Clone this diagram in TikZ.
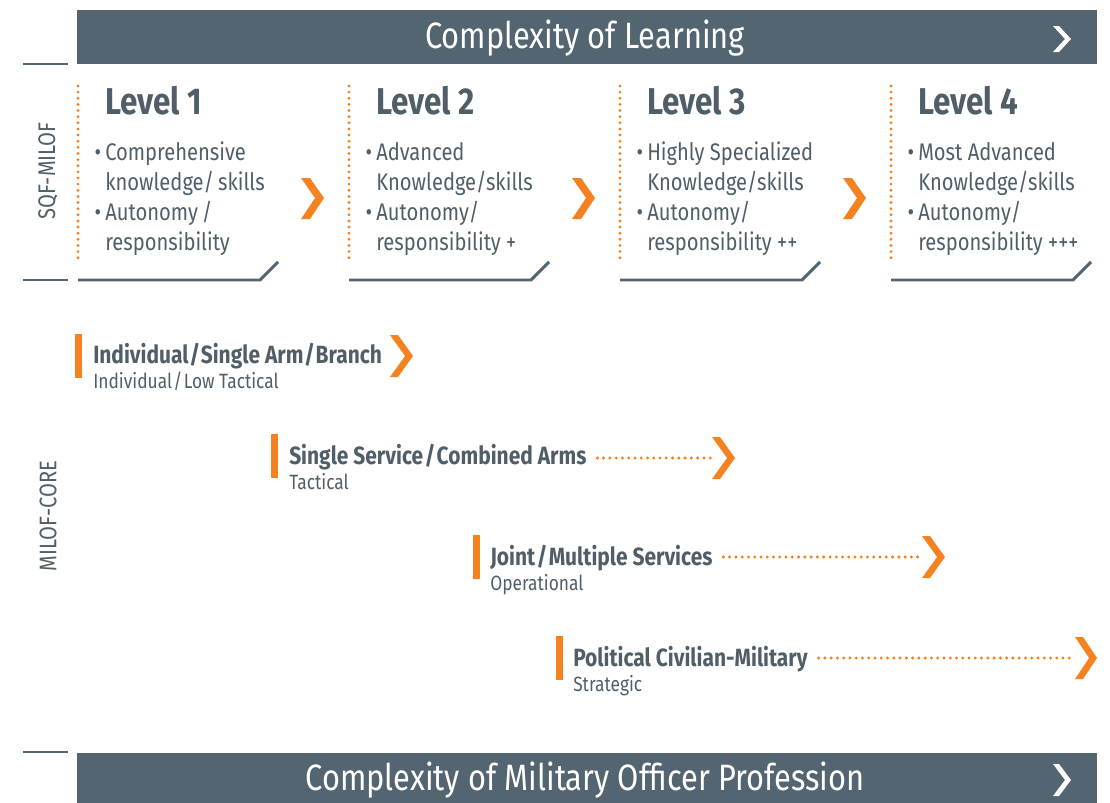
\documentclass[tikz,border=0pt]{standalone}
\usepackage{fontspec}
\setmainfont{Fira Sans}[FakeStretch=0.84]
\definecolor{slate}{HTML}{536570}
\definecolor{txt}{HTML}{505E68}
\definecolor{orng}{HTML}{F58220}
\begin{document}
\begin{tikzpicture}[x=0.75pt,y=-0.75pt,
  bar/.style={fill=slate,draw=none},
  bartext/.style={text=white,font=\fontsize{27.5}{32}\selectfont,anchor=center,inner sep=0},
  tick/.style={draw=slate,line width=2.2pt},
  side/.style={text=txt,font=\fontsize{18}{21}\selectfont,rotate=90,anchor=center,inner sep=0},
  lvl/.style={text=txt,font=\bfseries\fontsize{28}{32}\selectfont,anchor=west,inner sep=0},
  bul/.style={text=txt,font=\fontsize{18}{22.5}\selectfont,anchor=north west,align=left,inner sep=0},
  dotv/.style={draw=orng,line width=2.4pt,line cap=round,dash pattern=on 0pt off 4.6pt},
  dotline/.style={draw=orng,line width=2.5pt,line cap=round,dash pattern=on 0pt off 4.7pt},
  ochev/.style={fill=orng,draw=none},
  wchev/.style={fill=white,draw=none},
  rowt/.style={text=txt,font=\bfseries\fontsize{18.7}{22}\selectfont,anchor=base west,inner sep=0},
  rows/.style={text=txt,font=\fontsize{15.5}{18}\selectfont,anchor=base west,inner sep=0},
  obar/.style={fill=orng,draw=none}]
\useasboundingbox (0,0) rectangle (1110,803);
% top bar
\fill[bar] (77,10) rectangle (1097,64);
\node[bartext] (top) at (585,38) {Complexity of Learning};
\fill[wchev] (1053,26) -- (1059,26) -- (1071,39) -- (1059,52) -- (1053,52) -- (1065,39) -- cycle;
% bottom bar
\fill[bar] (77,753) rectangle (1097,803);
\node[bartext] (bot) at (585,780) {Complexity of Military Officer Profession};
\fill[wchev] (1053,764) -- (1059,764) -- (1071,780) -- (1059,796) -- (1053,796) -- (1065,780) -- cycle;
% ticks
\draw[tick] (23,64) -- (68,64);
\draw[tick] (23,280) -- (68,280);
\draw[tick] (23,752) -- (68,752);
% side labels
\node[side] (sqf) at (48,171) {SQF-MILOF};
\node[side] (core) at (48,516) {MILOF-CORE};
% level boxes
\foreach \k in {0,1,2,3}{
  \draw[dotv] (78+271*\k,86) -- (78+271*\k,260);
  \draw[tick] (78+271*\k,280) -- (260+271*\k,280) -- (278+271*\k,262);
}
\foreach \k in {0,1,2}{
  \fill[ochev] (301+271*\k,178) -- (310+271*\k,178) -- (324+271*\k,198) -- (310+271*\k,219) -- (301+271*\k,219) -- (315+271*\k,198) -- cycle;
}
\node[lvl] (L1) at (105,101) {Level 1};
\node[lvl] (L2) at (376,101) {Level 2};
\node[lvl] (L3) at (647,101) {Level 3};
\node[lvl] (L4) at (918,101) {Level 4};
\newcommand{\bu}{\llap{•\hspace{3pt}}}
\node[bul] (B1) at (105,142) {\bu Comprehensive\\knowledge/\,skills\\\bu Autonomy\,/\\responsibility};
\node[bul] (B2) at (376,142) {\bu Advanced\\Knowledge/skills\\\bu Autonomy/\\responsibility +};
\node[bul] (B3) at (647,142) {\bu Highly Specialized\\Knowledge/skills\\\bu Autonomy/\\responsibility ++};
\node[bul] (B4) at (918,142) {\bu Most Advanced\\Knowledge/skills\\\bu Autonomy/\\responsibility +++};
% rows
\fill[obar] (75,334) rectangle (82,378);
\node[rowt] (t1) at (93,363) {Individual\hspace{0.5pt}/\hspace{0.5pt}Single Arm\hspace{0.5pt}/\hspace{0.5pt}Branch};
\node[rows] (s1) at (93,388) {Individual\hspace{1pt}/\hspace{1pt}Low Tactical};
\fill[ochev] (390,335) -- (398,335) -- (413,356) -- (398,377) -- (390,377) -- (405,356) -- cycle;

\fill[obar] (271,434) rectangle (278,478);
\node[rowt] (t2) at (289,464) {Single Service\hspace{1pt}/\hspace{1pt}Combined Arms};
\node[rows] (s2) at (289,489) {Tactical};
\coordinate (c2) at (712,458);
\draw[dotline] ([xshift=8pt]t2.east |- c2) -- (c2);
\fill[ochev] (712,437) -- (720,437) -- (735,458) -- (720,479) -- (712,479) -- (727,458) -- cycle;

\fill[obar] (473,535) rectangle (480,579);
\node[rowt] (t3) at (490,565) {Joint\hspace{1pt}/\hspace{1pt}Multiple Services};
\node[rows] (s3) at (490,590) {Operational};
\coordinate (c3) at (922,557);
\draw[dotline] ([xshift=8pt]t3.east |- c3) -- (c3);
\fill[ochev] (922,536) -- (930,536) -- (945,557) -- (930,578) -- (922,578) -- (937,557) -- cycle;

\fill[obar] (556,636) rectangle (563,680);
\node[rowt] (t4) at (573,666) {Political Civilian-Military};
\node[rows] (s4) at (573,691) {Strategic};
\coordinate (c4) at (1075,658);
\draw[dotline] ([xshift=8pt]t4.east |- c4) -- (c4);
\fill[ochev] (1075,637) -- (1083,637) -- (1097,658) -- (1083,679) -- (1075,679) -- (1089,658) -- cycle;
\end{tikzpicture}
\end{document}
